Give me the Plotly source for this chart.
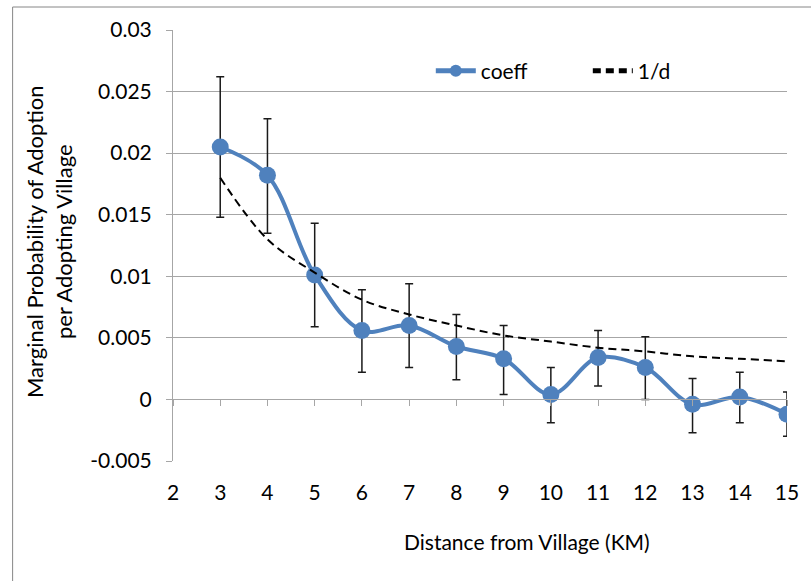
import plotly.graph_objects as go

distance_km = [3, 4, 5, 6, 7, 8, 9, 10, 11, 12, 13, 14, 15]
coeff = [0.0205, 0.0182, 0.0101, 0.0056, 0.0060, 0.0043, 0.0033, 0.0004, 0.0034, 0.0026, -0.0004, 0.0002, -0.0012]
ci_upper = [0.0262, 0.0228, 0.0143, 0.0089, 0.0094, 0.0069, 0.0060, 0.0026, 0.0056, 0.0051, 0.0017, 0.0022, 0.0006]
ci_lower = [0.0148, 0.0135, 0.0059, 0.0022, 0.0026, 0.0016, 0.0004, -0.0019, 0.0011, 0.0000, -0.0027, -0.0019, -0.0030]
inv_d = [0.0180, 0.0130, 0.0103, 0.0081, 0.0069, 0.0060, 0.0052, 0.0047, 0.0042, 0.0039, 0.0035, 0.0033, 0.0031]

x_ticks = list(range(2, 16))
y_tickvals = [0.03, 0.025, 0.02, 0.015, 0.01, 0.005, 0, -0.005]
y_ticktext = ["0.03", "0.025", "0.02", "0.015", "0.01", "0.005", "0", "-0.005"]

err_plus = [u - c for u, c in zip(ci_upper, coeff)]
err_minus = [c - l for c, l in zip(coeff, ci_lower)]

FONT = "Lato"
GRID = "#a6a6a6"
FS = 21

W, H = 811, 581
L, R, T, B = 173, 14, 30, 120
pw = W - L - R
ph = H - T - B

def px_x(px):
    return (px - L) / pw

def px_y(py):
    return (H - B - py) / ph

fig = go.Figure()

fig.add_trace(go.Scatter(
    x=distance_km, y=coeff, name="coeff", mode="lines+markers",
    line=dict(color="#4f81bd", width=4, shape="spline", smoothing=1),
    marker=dict(color="#4f81bd", size=17),
    error_y=dict(type="data", symmetric=False, array=err_plus, arrayminus=err_minus,
                 color="#1a1a1a", thickness=1.5, width=4),
))

fig.add_trace(go.Scatter(
    x=distance_km, y=inv_d, name="1/d", mode="lines", xaxis="x2",
    line=dict(color="black", width=2, dash="8px,5px", shape="spline", smoothing=1),
))

fig.update_layout(
    width=W, height=H,
    margin=dict(l=L, r=R, t=T, b=B),
    paper_bgcolor="white", plot_bgcolor="white",
    font=dict(family=FONT, size=FS, color="black"),
    showlegend=True,
    legend=dict(orientation="h", x=px_x(435), y=px_y(71), xanchor="left", yanchor="middle",
                bgcolor="rgba(0,0,0,0)", font=dict(size=FS, family=FONT),
                itemsizing="constant", entrywidth=102, itemwidth=40),
    xaxis=dict(range=[2, 15], tickvals=x_ticks, ticktext=[str(v) for v in x_ticks],
               showgrid=False, zeroline=False, showline=False, ticks="",
               ticklabelstandoff=17, tickfont=dict(size=FS, family=FONT)),
    xaxis2=dict(range=[2, 15], overlaying="x", anchor="free",
                position=0.005 / 0.035, side="bottom",
                tickvals=x_ticks, showticklabels=False, showgrid=False, zeroline=False,
                showline=True, linecolor=GRID, linewidth=1,
                ticks="outside", ticklen=6, tickcolor=GRID, tickwidth=1),
    yaxis=dict(range=[-0.005, 0.03], tickvals=y_tickvals, ticktext=y_ticktext,
               showgrid=True, gridcolor=GRID, gridwidth=1, zeroline=False,
               showline=True, linecolor=GRID, linewidth=1,
               ticks="outside", ticklen=6, tickcolor=GRID,
               ticklabelstandoff=10, tickfont=dict(size=FS, family=FONT)),
    annotations=[
        dict(text="Distance from Village (KM)", xref="paper", yref="paper",
             x=px_x(533), y=px_y(541), xanchor="center", yanchor="middle",
             showarrow=False, font=dict(size=21, family=FONT)),
        dict(text="Marginal Probability of Adoption<br>per Adopting Village",
             xref="paper", yref="paper", x=px_x(47), y=px_y(242),
             xanchor="center", yanchor="middle", textangle=-90,
             showarrow=False, font=dict(size=22, family=FONT)),
    ],
    shapes=[
        dict(type="rect", xref="paper", yref="paper",
             x0=px_x(10), x1=px_x(830), y0=px_y(600), y1=px_y(7),
             line=dict(color="#868686", width=1), fillcolor="rgba(0,0,0,0)", layer="below"),
    ],
)

fig.write_html("out.html", config={"displayModeBar": False},
               post_script="document.body.style.margin='0px';")
